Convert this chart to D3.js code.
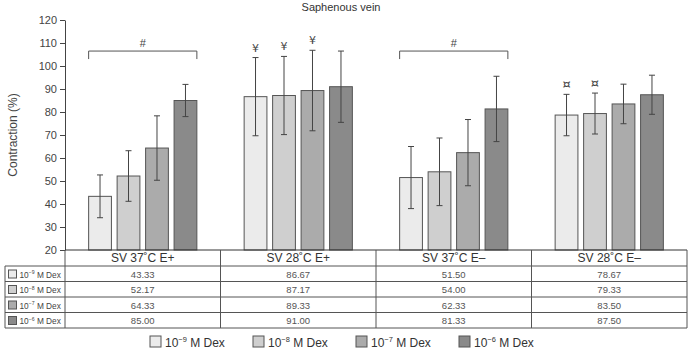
<!DOCTYPE html>
<html>
<head>
<meta charset="utf-8">
<script src="https://cdn.jsdelivr.net/npm/d3@7"></script>
<style>
  body { margin: 0; background: #fff; }
  svg { font-family: "Liberation Sans", Arial, sans-serif; }
</style>
</head>
<body>
<svg id="chart" width="692" height="352"></svg>
<script>
// data
const categories = ["SV 37˚C E+", "SV 28˚C E+", "SV 37˚C E–", "SV 28˚C E–"];
const doses = ["−9", "−8", "−7", "−6"];
const dose9 = [43.33, 86.67, 51.50, 78.67];
const dose8 = [52.17, 87.17, 54.00, 79.33];
const dose7 = [64.33, 89.33, 62.33, 83.50];
const dose6 = [85.00, 91.00, 81.33, 87.50];
const err9 = [9.3, 17, 13.5, 9];
const err8 = [11, 17, 14.7, 8.9];
const err7 = [14, 17.5, 14.4, 8.6];
const err6 = [7, 15.5, 14.2, 8.5];
const yTicks = [20, 30, 40, 50, 60, 70, 80, 90, 100, 110, 120];
// significance marks: [category index, dose index, symbol]
const marks = [[1, 0, "¥"], [1, 1, "¥"], [1, 2, "¥"], [3, 0, "¤"], [3, 1, "¤"]];
// brackets over whole groups
const brackets = [[0, "#"], [2, "#"]];

const values = [dose9, dose8, dose7, dose6];
const errors = [err9, err8, err7, err6];
const fills = ["#ebebeb", "#cfcfcf", "#ababab", "#8a8a8a"];

const svg = d3.select("#chart");
const pLeft = 65, pRight = 687, pTop = 20, pBottom = 250;

const x0 = d3.scaleBand().domain(categories).range([pLeft, pRight]);
const x1 = d3.scaleBand().domain(doses).range([0, x0.bandwidth()])
  .paddingInner(0.2).paddingOuter(0.83);
const y = d3.scaleLinear().domain([20, 120]).range([pBottom, pTop]);

// title
svg.append("text")
  .attr("x", 341).attr("y", 11)
  .attr("text-anchor", "middle")
  .attr("font-size", 11).attr("fill", "#333")
  .text("Saphenous vein");

// y label
svg.append("text")
  .attr("transform", "translate(17," + (pTop + pBottom) / 2 + ") rotate(-90)")
  .attr("text-anchor", "middle")
  .attr("font-size", 12).attr("fill", "#444")
  .text("Contraction (%)");

// y axis
const yAxis = svg.append("g")
  .attr("transform", "translate(" + pLeft + ",0)")
  .call(d3.axisLeft(y).tickValues(yTicks).tickSize(5).tickSizeOuter(0));
yAxis.select(".domain").attr("stroke", "#444");
yAxis.selectAll(".tick line").attr("stroke", "#444");
yAxis.selectAll(".tick text")
  .attr("font-size", 11).attr("fill", "#444")
  .attr("font-family", "Liberation Sans, Arial, sans-serif");

// bars
const groups = svg.selectAll(".grp").data(categories).enter().append("g")
  .attr("class", "grp")
  .attr("transform", d => "translate(" + x0(d) + ",0)");

groups.each(function(cat, ci) {
  const g = d3.select(this);
  doses.forEach((ds, di) => {
    const v = values[di][ci];
    const e = errors[di][ci];
    const bx = x1(ds);
    const bw = x1.bandwidth();
    g.append("rect")
      .attr("x", bx).attr("y", y(v))
      .attr("width", bw).attr("height", y(20) - y(v))
      .attr("fill", fills[di])
      .attr("stroke", "#555").attr("stroke-width", 1);
    const cx = bx + bw / 2;
    g.append("line")
      .attr("x1", cx).attr("x2", cx)
      .attr("y1", y(v + e)).attr("y2", y(v - e))
      .attr("stroke", "#444");
    [v + e, v - e].forEach(t => {
      g.append("line")
        .attr("x1", cx - 3).attr("x2", cx + 3)
        .attr("y1", y(t)).attr("y2", y(t))
        .attr("stroke", "#444");
    });
  });
});

// symbols above bars
marks.forEach(m => {
  const ci = m[0], di = m[1];
  const cx = x0(categories[ci]) + x1(doses[di]) + x1.bandwidth() / 2;
  const t = values[di][ci] + errors[di][ci];
  svg.append("text")
    .attr("x", cx).attr("y", y(t) - 6)
    .attr("text-anchor", "middle")
    .attr("font-family", "DejaVu Sans, sans-serif")
    .attr("font-size", m[2] === "¤" ? 13 : 11).attr("fill", "#444")
    .text(m[2]);
});

// brackets
brackets.forEach(b => {
  const ci = b[0];
  const gx = x0(categories[ci]);
  const xa = gx + x1(doses[0]);
  const xb = gx + x1(doses[3]) + x1.bandwidth();
  const top1 = d3.max(doses, (d, di) => values[di][ci] + errors[di][ci]);
  const by = Math.min(y(top1) - 20, y(106.5));
  svg.append("path")
    .attr("d", "M" + xa + "," + (by + 8) + "V" + by + "H" + xb + "V" + (by + 8))
    .attr("fill", "none").attr("stroke", "#555");
  svg.append("text")
    .attr("x", (xa + xb) / 2).attr("y", by - 4)
    .attr("text-anchor", "middle")
    .attr("font-size", 11).attr("fill", "#444")
    .text(b[1]);
});

// table
const rowH = 15.5;
const headerH = 16;
const tableLeft = 5;
const lineCol = "#555";

// horizontal lines
svg.append("line").attr("x1", pLeft).attr("x2", pRight)
  .attr("y1", pBottom).attr("y2", pBottom).attr("stroke", "#333");
for (let r = 0; r <= 4; r++) {
  const yy = pBottom + headerH + r * rowH;
  svg.append("line").attr("x1", tableLeft).attr("x2", pRight)
    .attr("y1", yy).attr("y2", yy).attr("stroke", lineCol);
}
const tableBottom = pBottom + headerH + 4 * rowH;
// vertical lines
svg.append("line").attr("x1", tableLeft).attr("x2", tableLeft)
  .attr("y1", pBottom + headerH).attr("y2", tableBottom).attr("stroke", lineCol);
categories.forEach(c => {
  svg.append("line").attr("x1", x0(c)).attr("x2", x0(c))
    .attr("y1", pBottom).attr("y2", tableBottom).attr("stroke", lineCol);
});
svg.append("line").attr("x1", pRight).attr("x2", pRight)
  .attr("y1", pBottom).attr("y2", tableBottom).attr("stroke", lineCol);

// header texts
categories.forEach(c => {
  svg.append("text")
    .attr("x", x0(c) + x0.bandwidth() / 2).attr("y", pBottom + 12)
    .attr("text-anchor", "middle")
    .attr("font-size", 12).attr("fill", "#333")
    .text(c);
});

function doseLabel(sel, exp, fs) {
  sel.append("tspan").text("10");
  sel.append("tspan").attr("dy", -fs * 0.4).attr("font-size", fs * 0.62).text(exp);
  sel.append("tspan").attr("dy", fs * 0.4).text(" M Dex");
}

// rows
doses.forEach((ds, di) => {
  const ry = pBottom + headerH + di * rowH;
  svg.append("rect")
    .attr("x", 8.5).attr("y", ry + 4).attr("width", 8).attr("height", 8)
    .attr("fill", fills[di]).attr("stroke", "#555");
  const lt = svg.append("text")
    .attr("x", 19.5).attr("y", ry + 11.5)
    .attr("font-size", 8.3).attr("fill", "#444");
  doseLabel(lt, ds, 8.3);
  categories.forEach((c, ci) => {
    svg.append("text")
      .attr("x", x0(c) + x0.bandwidth() / 2).attr("y", ry + 11.5)
      .attr("text-anchor", "middle")
      .attr("font-size", 9.5).attr("fill", "#555")
      .text(values[di][ci].toFixed(2));
  });
});

// legend
const legend = svg.append("g").attr("transform", "translate(150,336)");
const items = legend.selectAll(".leg").data(doses).enter().append("g")
  .attr("class", "leg")
  .attr("transform", (d, i) => "translate(" + (i * 103) + ",0)");
items.append("rect")
  .attr("width", 11).attr("height", 11)
  .attr("fill", (d, i) => fills[i]).attr("stroke", "#555");
items.append("text")
  .attr("x", 15).attr("y", 10.5)
  .attr("font-size", 12).attr("fill", "#333")
  .each(function(d) { doseLabel(d3.select(this), d, 12); });
</script>
</body>
</html>
